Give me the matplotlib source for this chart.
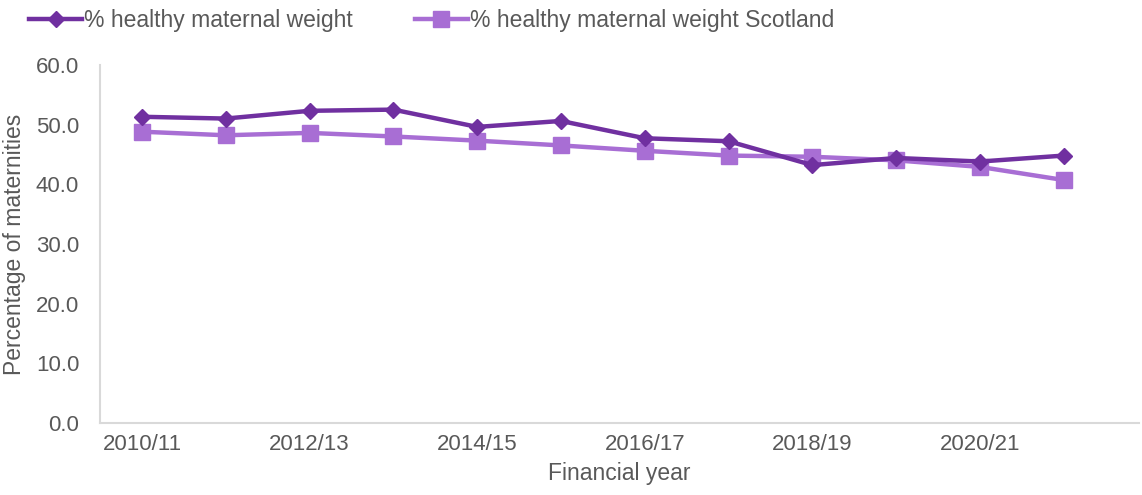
import matplotlib.pyplot as plt
import numpy as np

plt.rcParams['font.family'] = ['Liberation Sans', 'DejaVu Sans']

years = ['2010/11', '2011/12', '2012/13', '2013/14', '2014/15', '2015/16',
         '2016/17', '2017/18', '2018/19', '2019/20', '2020/21', '2021/22']
healthy_local = [51.3, 51.0, 52.3, 52.5, 49.6, 50.6, 47.7, 47.2, 43.2, 44.4, 43.8, 44.8]
healthy_scotland = [48.8, 48.2, 48.6, 48.0, 47.3, 46.5, 45.6, 44.8, 44.6, 44.0, 42.9, 40.7]

dark = '#7030A0'
light = '#A86ED4'
grey = '#595959'

fig = plt.figure(figsize=(11.42, 4.95), dpi=100)
ax = fig.add_axes([0.0876, 0.1455, 0.91, 0.7235])

x = np.arange(len(years))
ax.plot(x, healthy_local, color=dark, lw=3.2, marker='D', ms=8,
        label='% healthy maternal weight', zorder=3)
ax.plot(x, healthy_scotland, color=light, lw=3.2, marker='s', ms=12,
        label='% healthy maternal weight Scotland', zorder=2)

ax.set_ylim(0, 60)
ax.set_yticks(np.arange(0, 61, 10))
ax.set_yticklabels([f'{v:.1f}' for v in np.arange(0, 61, 10)])
ax.set_xlim(-0.5, 11.9)
ax.set_xticks(x[::2])
ax.set_xticklabels(years[::2])

for s in ['top', 'right']:
    ax.spines[s].set_visible(False)
for s in ['left', 'bottom']:
    ax.spines[s].set_color('#d9d9d9')
    ax.spines[s].set_linewidth(1.5)
ax.tick_params(length=0, labelsize=16, colors=grey)
ax.tick_params(axis='y', pad=15)
ax.tick_params(axis='x', pad=8)

ax.set_xlabel('Financial year', fontsize=16.5, color=grey, labelpad=5)
ax.set_ylabel('Percentage of maternities', fontsize=16.5, color=grey, labelpad=7)

leg = ax.legend(loc='lower left', bbox_to_anchor=(-0.077, 1.065), ncol=2,
                frameon=False, fontsize=16.5, handlelength=2.3,
                handletextpad=0.1, columnspacing=2.7, borderaxespad=0)
for t in leg.get_texts():
    t.set_color(grey)

fig.savefig('out.png', dpi=100)
